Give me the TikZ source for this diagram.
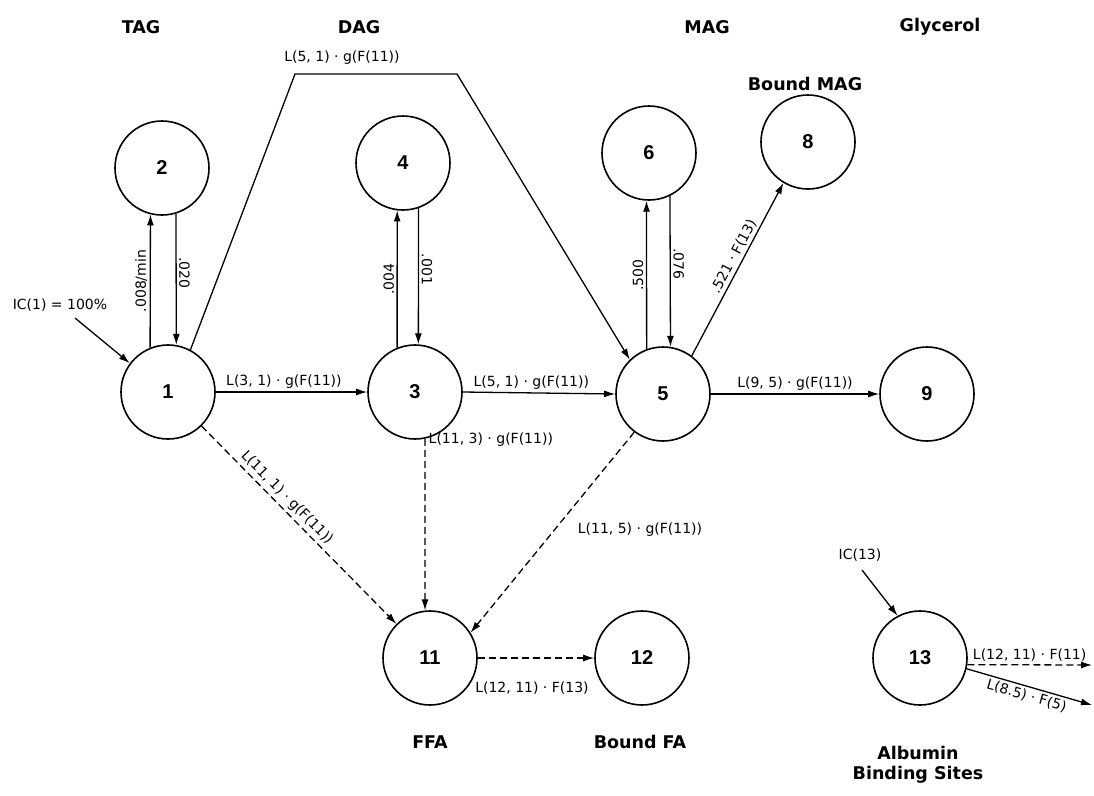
\documentclass[tikz,border=0pt]{standalone}
\usepackage{fontspec}
\setmainfont{Liberation Sans}
\newfontfamily\lblfont{DejaVu Sans}
\newfontfamily\hdfont{DejaVu Sans}
\newfontfamily\numfont{Liberation Sans}
\usetikzlibrary{arrows.meta}
\tikzset{
  state/.style={circle, draw, line width=1.6pt, minimum size=94pt, inner sep=0pt,
    font=\numfont\bfseries\fontsize{20}{22}\selectfont},
  head/.style={font=\hdfont\bfseries\fontsize{17.5}{21}\selectfont, align=center, inner sep=0pt},
  lbl/.style={font=\lblfont\fontsize{14}{16}\selectfont, inner sep=2.5pt},
  flow/.style={line width=1.3pt, -{Latex[length=11pt,width=7pt]}},
  dflow/.style={flow, dash pattern=on 7pt off 4pt}
}
\begin{document}
\begin{tikzpicture}[x=1pt,y=-1pt]
\useasboundingbox (0,0) rectangle (1094,795);
% headings
\node[head] (hTAG) at (141,27) {TAG};
\node[head] (hDAG) at (359,27) {DAG};
\node[head] (hMAG) at (707,27) {MAG};
\node[head] (hGly) at (940,27) {Glycerol};
\node[head] (hBM) at (805,84) {Bound MAG};
\node[head] (hFFA) at (430,742) {FFA};
\node[head] (hBFA) at (640,742) {Bound FA};
\node[head] (hAlb) at (918,765) {Albumin\\[-1pt]Binding Sites};
% compartments
\node[state] (n1) at (168,392) {1};
\node[state] (n2) at (162,168) {2};
\node[state] (n3) at (415,392) {3};
\node[state] (n4) at (403,163) {4};
\node[state] (n5) at (663,394) {5};
\node[state] (n6) at (649,153) {6};
\node[state] (n8) at (808,142) {8};
\node[state] (n9) at (927,394) {9};
\node[state] (n11) at (430,658) {11};
\node[state] (n12) at (642,658) {12};
\node[state] (n13) at (920,658) {13};
% free ends
\coordinate (ic1) at (75,318);
\coordinate (ic13) at (862,570);
\coordinate (c1) at (295,74);
\coordinate (c2) at (457,74);
\coordinate (e1) at (1092,665);
\coordinate (e2) at (1092,705);
\node[lbl] (tic1) at (60,305) {IC(1) = 100\%};
\node[lbl] (tic13) at (860,555) {IC(13)};
% exchanges
\draw[flow] (n1.112) -- (n2.-104.5) node[pos=0.5, lbl, rotate=90, above] {.008/min};
\draw[flow] (n2.-73) -- (n1.80.4) node[pos=0.45, lbl, rotate=-90, above] {.020};
\draw[flow] (n3.112) -- (n4.-97.2) node[pos=0.5, lbl, rotate=90, above] {.004};
\draw[flow] (n4.-71.8) -- (n3.86.4) node[pos=0.45, lbl, rotate=-90, above] {.001};
\draw[flow] (n5.110.7) -- (n6.-93.6) node[pos=0.5, lbl, rotate=90, above] {.500};
\draw[flow] (n6.-64.1) -- (n5.81.6) node[pos=0.45, lbl, rotate=-90, above] {.076};
% initial conditions
\draw[flow] (ic1) -- (n1.143);
\draw[flow] (ic13) -- (n13.118);
% main chain
\draw[flow] (n1.east) -- (n3.west) node[pos=0.45, lbl, above] {L(3, 1) · g(F(11))};
\draw[flow] (n3.east) -- (n5.west) node[pos=0.45, lbl, above] {L(5, 1) · g(F(11))};
\draw[flow] (n5.east) -- (n9.west) node[pos=0.5, lbl, above] {L(9, 5) · g(F(11))};
\draw[flow] (n1.62) -- (c1) -- (c2) -- (n5.134);
\node[lbl] (t51) at (342,58) {L(5, 1) · g(F(11))};
\draw[flow] (n5.53) -- (n8.-121) node[pos=0.55, lbl, sloped, above] {.521 · F(13)};
% to FFA
\draw[dflow] (n1) -- (n11) node[pos=0.4, lbl, sloped, above, inner sep=3pt] {L(11, 1) · g(F(11))};
\draw[dflow] (n3.-78) -- (n11.96);
\node[lbl, anchor=west] (t113) at (426,440) {L(11, 3) · g(F(11))};
\draw[dflow] (n5.-127) -- (n11.32);
\node[lbl] (t115) at (640,530) {L(11, 5) · g(F(11))};
\draw[dflow] (n11.east) -- (n12.west);
\node[lbl] (t1211) at (532,688) {L(12, 11) · F(13)};
% albumin
\draw[dflow] (n13.-8) -- (e1) node[pos=0.5, lbl, above] {L(12, 11) · F(11)};
\draw[flow] (n13.-13) -- (e2) node[pos=0.5, lbl, sloped, below] {L(8.5) · F(5)};
\end{tikzpicture}
\end{document}
